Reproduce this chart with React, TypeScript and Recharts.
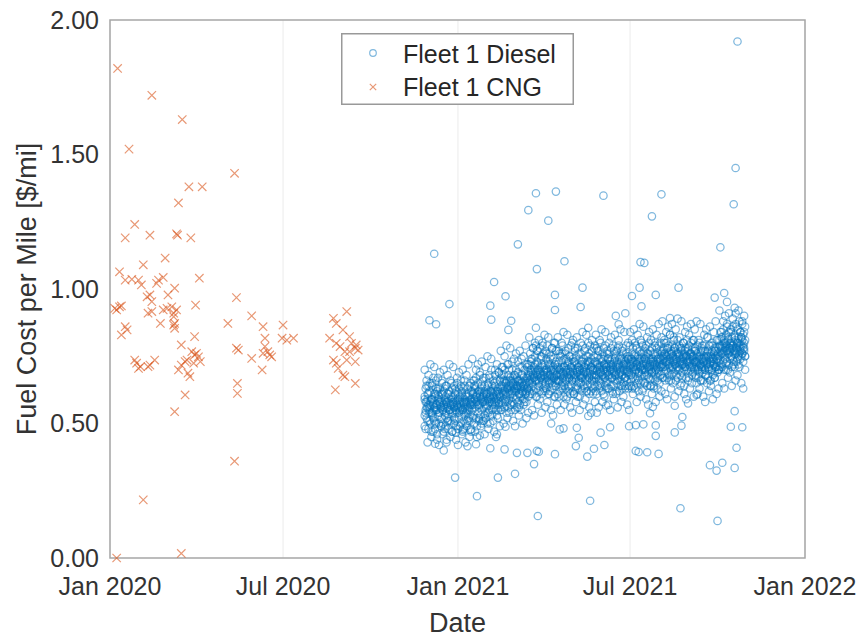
import {
  ScatterChart, Scatter, XAxis, YAxis, CartesianGrid, ReferenceArea, Legend
} from "recharts";

const FONT = "'Liberation Sans', Arial, Helvetica, sans-serif";
const BLUE = "#0072BD";
const ORANGE = "#D95319";

// x axis is "days since 1 Jan 2020"
const dateTicks = [0, 182, 366, 547, 731];
const dateLabels = ["Jan 2020", "Jul 2020", "Jan 2021", "Jul 2021", "Jan 2022"];
const costTicks = [0, 0.5, 1, 1.5, 2];

// Fleet 1 CNG
const cngDay = [
  8, 44, 76, 20, 131, 83, 97, 72, 26, 16, 42, 70, 71, 85, 58, 35, 94, 133, 149,
  10, 16, 23, 30, 33, 39, 42, 44, 51, 56, 49, 68, 61, 60, 65, 70, 67,
  90, 10, 5, 16, 18, 12, 40, 53, 68, 68, 89, 75, 86, 89, 93, 79, 72, 82, 84,
  26, 28, 30, 47, 40, 79, 124, 133, 135, 134, 134,
  7, 12, 32, 42, 44, 56, 67, 67, 75, 81, 88, 91, 95, 68, 35, 75, 7, 131,
  161, 163, 163, 149, 160, 161, 168, 182, 181, 186, 193, 166, 170,
  235, 249, 238, 245, 231, 252, 254, 259, 258, 261, 238, 242, 247, 252,
  235, 238, 249, 258, 240, 245, 247, 258, 237
];
const cngCost = [
  1.82, 1.72, 1.63, 1.52, 1.43, 1.38, 1.38, 1.32, 1.24, 1.19, 1.2, 1.205, 1.2, 1.19, 1.115, 1.09, 1.04, 0.968, 0.9,
  1.064, 1.033, 1.036, 1.033, 1.015, 0.971, 0.978, 0.953, 1.033, 1.043, 1.021, 1.003, 0.978, 0.928, 0.934, 0.922, 0.897,
  0.94, 0.934, 0.928, 0.86, 0.848, 0.829, 0.91, 0.872, 0.872, 0.854, 0.823, 0.792, 0.767, 0.755, 0.748, 0.73, 0.699, 0.687, 0.674,
  0.736, 0.724, 0.705, 0.736, 0.711, 0.606, 0.872, 0.78, 0.773, 0.649, 0.612,
  0.922, 0.937, 0.711, 0.717, 0.916, 0.922, 0.91, 0.866, 0.717, 0.736, 0.724, 0.761, 0.73, 0.544, 0.216, 0.017, 0.0, 0.36,
  0.86, 0.817, 0.786, 0.742, 0.699, 0.761, 0.755, 0.866, 0.817, 0.81, 0.817, 0.767, 0.748,
  0.891, 0.916, 0.872, 0.848, 0.817, 0.823, 0.798, 0.792, 0.78, 0.773, 0.798, 0.786, 0.767, 0.767,
  0.736, 0.724, 0.736, 0.73, 0.705, 0.68, 0.674, 0.649, 0.625
];

// Fleet 1 Diesel, one row per day: [day, cost in cents ...]
const dieselLate2020 = [
  [331, 53, 60, 49, 70, 59], [332, 63, 55, 58, 48, 54], [333, 56, 66, 52, 64, 58], [334, 59, 51, 61, 43, 56],
  [335, 48, 57, 64, 68, 61], [336, 62, 54, 56, 51, 55], [337, 58, 65, 50, 72, 57], [338, 54, 47, 59, 45, 59],
  [339, 64, 59, 53, 65, 54], [340, 57, 52, 67, 47, 58], [341, 51, 61, 55, 71, 56], [342, 60, 56, 48, 50, 61],
  [343, 66, 50, 57, 63, 55], [344, 55, 62, 46, 44, 57], [345, 61, 53, 63, 67, 59], [346, 50, 58, 60, 42, 54],
  [347, 54, 63, 57, 69, 58], [348, 59, 49, 56, 49, 56], [349, 52, 58, 65, 66, 61], [350, 61, 55, 50, 46, 55],
  [351, 57, 47, 62, 70, 57], [352, 63, 56, 53, 48, 59], [353, 49, 60, 58, 64, 54], [354, 56, 64, 52, 43, 58],
  [355, 58, 51, 61, 68, 56], [356, 53, 57, 48, 51, 61], [357, 62, 55, 59, 72, 55], [358, 55, 66, 51, 45, 57],
  [359, 60, 50, 57, 65, 59], [360, 47, 58, 63, 47, 54], [361, 57, 54, 60, 71, 58], [362, 64, 52, 56, 50, 56],
  [363, 51, 59, 55, 63, 61], [364, 58, 62, 49, 44, 55], [365, 54, 57, 65, 67, 57]
];
const dieselQ1 = [
  [366, 61, 48, 56, 42, 59], [367, 56, 63, 52, 69, 54], [368, 59, 55, 60, 49, 58], [369, 50, 57, 64, 66, 56],
  [370, 62, 53, 58, 46, 61], [371, 55, 60, 47, 70, 55], [372, 58, 51, 63, 48, 57], [373, 53, 66, 56, 64, 59],
  [374, 60, 58, 50, 43, 54], [375, 57, 49, 61, 68, 58], [376, 63, 55, 54, 51, 56], [377, 52, 60, 58, 72, 61],
  [378, 56, 64, 51, 45, 55], [379, 59, 53, 57, 65, 57], [380, 48, 58, 62, 47, 59], [381, 55, 62, 58, 74, 57],
  [382, 61, 52, 66, 53, 61], [383, 57, 64, 50, 66, 59], [384, 63, 56, 59, 47, 64], [385, 52, 60, 67, 70, 58],
  [386, 58, 49, 61, 45, 60], [387, 65, 57, 54, 72, 62], [388, 56, 62, 51, 52, 57], [389, 60, 68, 57, 69, 61],
  [390, 53, 59, 63, 49, 59], [391, 62, 55, 50, 73, 64], [392, 58, 66, 60, 51, 58], [393, 51, 61, 56, 67, 60],
  [394, 64, 58, 53, 46, 62], [395, 59, 52, 67, 71, 57], [396, 56, 63, 61, 54, 61], [397, 61, 57, 50, 75, 59],
  [398, 54, 65, 59, 48, 64], [399, 67, 60, 55, 68, 58], [400, 58, 53, 62, 50, 60], [401, 62, 59, 70, 74, 62],
  [402, 55, 64, 58, 53, 57], [403, 60, 51, 63, 66, 61], [404, 65, 58, 56, 47, 59], [405, 57, 62, 68, 70, 64],
  [406, 61, 55, 59, 45, 58], [407, 53, 66, 62, 72, 60], [408, 63, 59, 55, 52, 62], [409, 58, 69, 61, 69, 57],
  [410, 66, 56, 60, 49, 61], [411, 60, 67, 55, 77, 63], [412, 64, 58, 71, 55, 68], [413, 57, 63, 66, 71, 62],
  [414, 68, 61, 59, 50, 64], [415, 62, 56, 70, 75, 66], [416, 59, 65, 63, 58, 61], [417, 66, 60, 54, 79, 65],
  [418, 63, 72, 58, 52, 63], [419, 56, 64, 61, 72, 68], [420, 70, 59, 66, 54, 62], [421, 61, 67, 57, 78, 64],
  [422, 65, 55, 63, 57, 66], [423, 58, 62, 73, 70, 61], [424, 67, 64, 60, 51, 65], [425, 62, 57, 68, 74, 63],
  [426, 55, 66, 63, 49, 68], [427, 64, 70, 59, 76, 62], [428, 60, 63, 67, 56, 64], [429, 69, 58, 64, 73, 66],
  [430, 63, 66, 56, 53, 61], [431, 57, 61, 71, 77, 65], [432, 66, 64, 60, 55, 63], [433, 61, 74, 65, 71, 68],
  [434, 68, 59, 62, 50, 62], [435, 64, 67, 57, 75, 64], [436, 59, 63, 70, 58, 66], [437, 72, 65, 61, 79, 61],
  [438, 62, 58, 67, 52, 65], [439, 67, 71, 63, 72, 63], [440, 60, 64, 69, 54, 68], [441, 65, 72, 62, 82, 66],
  [442, 70, 66, 76, 61, 68], [443, 63, 69, 73, 74, 70], [444, 74, 67, 61, 55, 65], [445, 68, 78, 64, 78, 69],
  [446, 62, 71, 67, 53, 67], [447, 75, 66, 70, 80, 72], [448, 69, 63, 79, 60, 66], [449, 66, 73, 60, 77, 68],
  [450, 72, 68, 77, 57, 70], [451, 64, 70, 66, 81, 65], [452, 78, 62, 71, 59, 69], [453, 67, 74, 69, 75, 67],
  [454, 61, 68, 75, 54, 72], [455, 71, 65, 80, 79, 66]
];
const dieselQ2 = [
  [456, 69, 76, 63, 62, 68], [457, 64, 72, 68, 83, 70], [458, 77, 67, 62, 56, 65], [459, 70, 63, 74, 76, 69],
  [460, 66, 79, 69, 58, 67], [461, 73, 68, 61, 82, 72], [462, 65, 71, 76, 61, 66], [463, 68, 62, 72, 74, 68],
  [464, 75, 70, 66, 55, 70], [465, 63, 67, 78, 78, 65], [466, 71, 74, 64, 53, 69], [467, 67, 60, 70, 80, 67],
  [468, 80, 69, 65, 60, 72], [469, 64, 73, 68, 77, 66], [470, 70, 66, 77, 57, 68], [471, 66, 72, 61, 82, 71],
  [472, 73, 68, 77, 60, 66], [473, 62, 70, 66, 76, 70], [474, 69, 75, 63, 55, 68], [475, 76, 64, 71, 80, 73],
  [476, 65, 69, 79, 63, 67], [477, 71, 60, 67, 84, 69], [478, 68, 74, 64, 57, 71], [479, 63, 70, 76, 77, 66],
  [480, 74, 66, 69, 59, 70], [481, 60, 72, 67, 83, 68], [482, 70, 78, 64, 62, 73], [483, 67, 63, 73, 75, 67],
  [484, 75, 69, 61, 56, 69], [485, 64, 71, 68, 79, 71], [486, 72, 66, 80, 54, 66], [487, 69, 62, 74, 81, 70],
  [488, 61, 73, 67, 61, 68], [489, 77, 68, 70, 78, 73], [490, 66, 75, 63, 58, 67], [491, 70, 64, 72, 82, 69],
  [492, 63, 69, 78, 60, 71], [493, 74, 71, 65, 76, 66], [494, 68, 60, 70, 55, 70], [495, 65, 76, 67, 80, 68],
  [496, 72, 67, 62, 63, 73], [497, 79, 70, 73, 84, 67], [498, 64, 74, 68, 57, 69], [499, 71, 63, 69, 77, 71],
  [500, 67, 78, 72, 59, 66], [501, 62, 69, 75, 83, 70], [502, 73, 66, 64, 62, 68], [503, 69, 72, 80, 75, 73],
  [504, 76, 61, 67, 56, 67], [505, 65, 70, 73, 79, 69], [506, 71, 74, 62, 54, 71], [507, 68, 64, 77, 81, 66],
  [508, 63, 72, 70, 61, 70], [509, 75, 67, 66, 78, 68], [510, 70, 79, 64, 58, 73], [511, 67, 73, 62, 83, 68],
  [512, 72, 68, 78, 61, 70], [513, 64, 71, 75, 77, 72], [514, 77, 66, 69, 56, 67], [515, 70, 74, 63, 81, 71],
  [516, 65, 69, 80, 64, 69], [517, 73, 62, 71, 85, 74], [518, 68, 76, 66, 58, 68], [519, 61, 70, 74, 78, 70],
  [520, 75, 67, 72, 60, 72], [521, 69, 64, 79, 84, 67], [522, 72, 71, 65, 63, 71], [523, 66, 77, 70, 76, 69],
  [524, 74, 63, 68, 57, 74], [525, 63, 72, 76, 80, 68], [526, 71, 67, 73, 55, 70], [527, 78, 70, 64, 82, 72],
  [528, 67, 74, 69, 62, 67], [529, 70, 61, 72, 79, 71], [530, 64, 73, 77, 59, 69], [531, 76, 68, 66, 83, 74],
  [532, 69, 75, 71, 61, 68], [533, 73, 65, 62, 77, 70], [534, 66, 71, 78, 56, 72], [535, 72, 79, 68, 81, 67],
  [536, 62, 69, 74, 64, 71], [537, 75, 66, 70, 85, 69], [538, 68, 73, 64, 58, 74], [539, 71, 63, 77, 78, 68],
  [540, 65, 76, 72, 60, 70], [541, 74, 70, 67, 84, 72], [542, 67, 64, 73, 63, 67], [543, 79, 72, 69, 76, 71],
  [544, 70, 66, 75, 57, 69], [545, 63, 74, 71, 80, 74], [546, 69, 75, 64, 55, 68]
];
const dieselQ3 = [
  [547, 73, 70, 79, 84, 72], [548, 66, 72, 68, 64, 74], [549, 76, 63, 74, 81, 69], [550, 71, 78, 67, 61, 73],
  [551, 64, 73, 70, 85, 71], [552, 75, 69, 80, 63, 76], [553, 70, 66, 73, 79, 70], [554, 78, 72, 65, 58, 72],
  [555, 67, 75, 71, 83, 74], [556, 73, 62, 69, 66, 69], [557, 69, 77, 74, 87, 73], [558, 65, 71, 81, 60, 71],
  [559, 74, 68, 66, 80, 76], [560, 72, 79, 70, 62, 70], [561, 63, 73, 76, 86, 72], [562, 77, 70, 68, 65, 74],
  [563, 70, 65, 74, 78, 69], [564, 75, 72, 79, 59, 73], [565, 68, 76, 64, 82, 71], [566, 71, 69, 73, 57, 76],
  [567, 80, 74, 67, 84, 70], [568, 66, 71, 77, 64, 72], [569, 73, 64, 70, 81, 74], [570, 69, 78, 72, 61, 69],
  [571, 76, 67, 74, 85, 73], [572, 64, 73, 69, 63, 71], [573, 72, 80, 66, 79, 76], [574, 70, 68, 75, 58, 70],
  [575, 78, 73, 71, 83, 72], [576, 67, 76, 63, 66, 74], [577, 74, 70, 79, 87, 69], [578, 71, 65, 72, 60, 73],
  [579, 68, 77, 74, 80, 71], [580, 75, 71, 82, 62, 76], [581, 72, 77, 67, 88, 72], [582, 78, 71, 75, 67, 74],
  [583, 69, 74, 81, 80, 76], [584, 76, 66, 73, 61, 71], [585, 73, 80, 70, 84, 75], [586, 67, 75, 78, 59, 73],
  [587, 79, 72, 69, 86, 78], [588, 74, 68, 76, 66, 72], [589, 71, 83, 73, 83, 74], [590, 77, 70, 66, 63, 76],
  [591, 68, 76, 79, 87, 71], [592, 75, 73, 71, 65, 75], [593, 82, 69, 77, 81, 73], [594, 72, 78, 74, 60, 78],
  [595, 66, 74, 70, 85, 72], [596, 79, 71, 76, 68, 74], [597, 73, 67, 81, 89, 76], [598, 76, 75, 70, 62, 71],
  [599, 70, 79, 73, 82, 75], [600, 78, 72, 68, 64, 73], [601, 74, 65, 77, 88, 78], [602, 69, 76, 72, 67, 72],
  [603, 80, 73, 75, 80, 74], [604, 72, 70, 64, 61, 76], [605, 77, 78, 71, 84, 71], [606, 67, 73, 75, 59, 75],
  [607, 75, 81, 70, 86, 73], [608, 73, 69, 77, 66, 78], [609, 79, 74, 67, 83, 72], [610, 71, 76, 73, 63, 74],
  [611, 76, 70, 80, 87, 76], [612, 68, 75, 72, 65, 71], [613, 74, 78, 69, 81, 75], [614, 81, 71, 75, 60, 73],
  [615, 70, 73, 77, 85, 78], [616, 73, 68, 77, 67, 71], [617, 76, 72, 65, 88, 73], [618, 70, 79, 74, 61, 75],
  [619, 67, 73, 71, 81, 70], [620, 75, 69, 80, 63, 74], [621, 72, 76, 66, 87, 72], [622, 78, 71, 74, 66, 77],
  [623, 69, 74, 70, 79, 71], [624, 74, 66, 77, 60, 73], [625, 71, 79, 73, 83, 75], [626, 77, 70, 68, 58, 70],
  [627, 68, 75, 72, 85, 74], [628, 73, 82, 76, 65, 72], [629, 75, 67, 71, 82, 77], [630, 70, 74, 79, 62, 71],
  [631, 79, 72, 66, 86, 73], [632, 66, 76, 73, 64, 75], [633, 74, 70, 77, 80, 70], [634, 72, 79, 68, 59, 74],
  [635, 76, 73, 74, 84, 72], [636, 69, 67, 78, 67, 77], [637, 77, 75, 71, 88, 71], [638, 71, 81, 74, 61, 73]
];
const dieselQ4 = [
  [639, 74, 69, 76, 81, 75], [640, 78, 73, 70, 63, 70], [641, 75, 81, 70, 92, 79], [642, 79, 74, 84, 71, 77],
  [643, 72, 78, 76, 84, 82], [644, 82, 71, 79, 65, 76], [645, 76, 85, 73, 88, 78], [646, 70, 77, 81, 63, 80],
  [647, 80, 74, 78, 90, 75], [648, 77, 83, 72, 70, 79], [649, 73, 79, 86, 87, 77], [650, 81, 76, 70, 67, 82],
  [651, 78, 72, 84, 91, 76], [652, 74, 80, 77, 69, 78], [653, 84, 75, 79, 85, 80], [654, 71, 78, 82, 64, 75],
  [655, 79, 86, 74, 89, 79], [656, 76, 73, 80, 72, 77], [657, 83, 77, 71, 93, 82], [658, 78, 81, 87, 66, 76],
  [659, 73, 79, 76, 86, 78], [660, 85, 74, 80, 68, 80], [661, 77, 82, 72, 92, 75], [662, 80, 76, 88, 71, 79],
  [663, 74, 84, 78, 84, 77], [664, 82, 79, 75, 65, 82], [665, 76, 87, 81, 88, 76], [666, 79, 73, 83, 63, 78],
  [667, 84, 78, 77, 90, 80], [668, 75, 81, 86, 70, 75]
];

// Diesel points well off the main band: [day, $/mi]
const dieselOutliers = [
  [660, 1.92], [658, 1.45], [656, 1.315], [448, 1.356], [469, 1.362], [440, 1.293], [461, 1.254],
  [519, 1.347], [580, 1.352], [570, 1.27], [429, 1.166], [341, 1.131], [642, 1.155], [449, 1.074],
  [478, 1.103], [558, 1.1], [562, 1.097], [404, 1.026], [416, 0.973], [400, 0.938], [357, 0.944],
  [401, 0.886], [422, 0.882], [419, 0.848], [336, 0.884], [343, 0.869], [468, 0.978], [468, 0.922],
  [497, 1.005], [495, 0.933], [557, 1.005], [549, 0.974], [559, 0.936], [574, 0.978], [598, 1.005],
  [636, 0.968], [646, 0.985], [649, 0.952], [448, 0.856], [503, 0.856], [532, 0.9], [542, 0.91],
  [535, 0.869], [589, 0.892], [658, 0.91],
  [363, 0.299], [386, 0.23], [408, 0.299], [426, 0.313], [446, 0.349], [450, 0.156], [505, 0.213],
  [600, 0.185], [639, 0.138], [631, 0.345], [638, 0.325], [644, 0.354], [657, 0.335], [659, 0.41],
  [657, 0.546], [653, 0.488], [665, 0.486], [342, 0.425], [351, 0.4], [354, 0.44], [376, 0.416],
  [385, 0.423], [400, 0.408], [415, 0.404], [428, 0.391], [439, 0.391], [449, 0.398], [451, 0.395],
  [468, 0.386], [490, 0.416], [502, 0.377], [509, 0.406], [520, 0.42], [553, 0.398], [556, 0.394],
  [565, 0.393], [577, 0.387], [407, 0.46], [364, 0.466], [371, 0.476], [379, 0.476], [389, 0.455],
  [416, 0.488], [464, 0.5], [473, 0.478], [477, 0.482], [491, 0.484], [493, 0.447], [516, 0.466],
  [526, 0.486], [546, 0.49], [553, 0.494], [561, 0.497], [574, 0.493], [574, 0.454], [594, 0.467],
  [601, 0.492], [602, 0.524], [594, 0.566], [608, 0.575], [617, 0.606], [571, 0.562], [568, 0.538],
  [522, 0.567], [512, 0.54], [503, 0.528]
];

const dieselRows = [...dieselLate2020, ...dieselQ1, ...dieselQ2, ...dieselQ3, ...dieselQ4];
const dieselData = [
  ...dieselRows.flatMap(([day, ...cents]) => cents.map((c) => ({ day, cost: c / 100 }))),
  ...dieselOutliers.map(([day, cost]) => ({ day, cost })),
];
const cngData = cngDay.map((day, i) => ({ day, cost: cngCost[i] }));

const Circle = (p: any) => (
  <circle cx={p.cx} cy={p.cy} r={3.7} fill="none" stroke={BLUE} strokeOpacity={0.5} strokeWidth={1.25} />
);

const Cross = (p: any) => {
  const s = 4.2;
  return (
    <path
      d={`M${p.cx - s},${p.cy - s}L${p.cx + s},${p.cy + s}M${p.cx - s},${p.cy + s}L${p.cx + s},${p.cy - s}`}
      stroke={ORANGE}
      strokeOpacity={0.6}
      strokeWidth={1.2}
      fill="none"
    />
  );
};

const LegendBox = () => (
  <svg width={233} height={72} style={{ display: "block" }}>
    <rect x={0.75} y={0.75} width={231.5} height={70.5} fill="#fff" stroke="#999" strokeWidth={1.5} />
    <circle cx={32} cy={20} r={3.3} fill="none" stroke={BLUE} strokeOpacity={0.5} strokeWidth={1.2} />
    <path d="M28.8,50.8L35.2,57.2M28.8,57.2L35.2,50.8" stroke={ORANGE} strokeOpacity={0.6} strokeWidth={1.2} />
    <text x={62} y={30} fontSize={25} fill="#262626" fontFamily={FONT}>Fleet 1 Diesel</text>
    <text x={62} y={63} fontSize={25} fill="#262626" fontFamily={FONT}>Fleet 1 CNG</text>
  </svg>
);

export default function App() {
  return (
    <div style={{ position: "absolute", left: 0, top: 0, fontFamily: FONT, background: "#fff" }}>
      <ScatterChart width={865} height={637} margin={{ top: 20, right: 60, bottom: 0, left: 0 }}>
        <CartesianGrid horizontal={false} stroke="#ebebeb" strokeWidth={1} />
        <XAxis
          type="number"
          dataKey="day"
          domain={[0, 731]}
          ticks={dateTicks}
          tickFormatter={(v: number) => dateLabels[dateTicks.indexOf(v)]}
          height={79}
          tickSize={0}
          tickMargin={19}
          axisLine={false}
          tickLine={false}
          tick={{ fontSize: 25, fill: "#333" }}
          label={{
            content: ({ viewBox }: any) => (
              <text x={viewBox.x + viewBox.width / 2} y={viewBox.y + viewBox.height - 5}
                textAnchor="middle" fontSize={27} fill="#333">Date</text>
            ),
          }}
        />
        <YAxis
          type="number"
          dataKey="cost"
          domain={[0, 2]}
          ticks={costTicks}
          tickFormatter={(v: number) => v.toFixed(2)}
          width={110}
          tickSize={0}
          tickMargin={11}
          axisLine={false}
          tickLine={false}
          tick={{ fontSize: 25, fill: "#333" }}
          label={{
            content: ({ viewBox }: any) => {
              const x = viewBox.x + 36;
              const y = viewBox.y + viewBox.height / 2;
              return (
                <text x={x} y={y} transform={`rotate(-90 ${x} ${y})`} textAnchor="middle"
                  fontSize={27} fill="#333">Fuel Cost per Mile [$/mi]</text>
              );
            },
          }}
        />
        <ReferenceArea x1={0} x2={731} y1={0} y2={2} fill="none" stroke="#a6a6a6" strokeWidth={1.5} ifOverflow="visible" />
        <Scatter name="Fleet 1 Diesel" data={dieselData} shape={Circle} isAnimationActive={false} />
        <Scatter name="Fleet 1 CNG" data={cngData} shape={Cross} isAnimationActive={false} />
        <Legend
          layout="vertical"
          align="center"
          verticalAlign="middle"
          wrapperStyle={{ left: 341, top: 33, width: 233, height: 72 }}
          content={() => <LegendBox />}
        />
      </ScatterChart>
    </div>
  );
}
